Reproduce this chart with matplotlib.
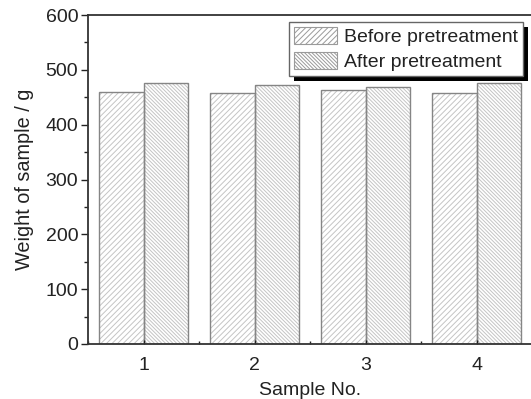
import numpy as np
import matplotlib
matplotlib.use("Agg")
import matplotlib.pyplot as plt
from matplotlib.ticker import MultipleLocator

# data
samples = [1, 2, 3, 4]
before = [460, 458, 463, 458]
after = [476, 473, 469, 476]

plt.rcParams["font.family"] = ["Liberation Sans", "DejaVu Sans"]
plt.rcParams["hatch.linewidth"] = 0.7

fig = plt.figure(figsize=(5.31, 3.99), dpi=100)
ax = fig.add_axes([88 / 531, 1 - 344 / 399, 444 / 531, 329 / 399])

x = np.array(samples)
w = 0.4
hatch_b = "//////"
hatch_a = "\\" * 9

# hatched fill in light gray, outline drawn on top in darker gray
ax.bar(x - w / 2, before, w, facecolor="white", edgecolor="#c4c4c4",
       hatch=hatch_b, linewidth=0)
ax.bar(x + w / 2, after, w, facecolor="white", edgecolor="#c4c4c4",
       hatch=hatch_a, linewidth=0)
ax.bar(x - w / 2, before, w, facecolor="none", edgecolor="#858585", linewidth=1.0)
ax.bar(x + w / 2, after, w, facecolor="none", edgecolor="#858585", linewidth=1.0)

# legend handles
hb = plt.Rectangle((0, 0), 1, 1, facecolor="white", edgecolor="#9a9a9a",
                   hatch=hatch_b, linewidth=0.8)
ha = plt.Rectangle((0, 0), 1, 1, facecolor="white", edgecolor="#9a9a9a",
                   hatch=hatch_a, linewidth=0.8)

ax.set_xlim(0.5, 4.5)
ax.set_ylim(0, 600)
ax.set_xticks(samples)
ax.xaxis.set_minor_locator(MultipleLocator(0.5))
ax.yaxis.set_major_locator(MultipleLocator(100))
ax.yaxis.set_minor_locator(MultipleLocator(50))
ax.tick_params(axis="y", which="both", direction="out", labelsize=14,
               width=1.0, pad=2, colors="#222222")
ax.tick_params(axis="y", which="major", length=5)
ax.tick_params(axis="y", which="minor", length=3)
ax.tick_params(axis="x", which="both", direction="in", labelsize=14,
               width=1.0, pad=9, colors="#222222")
ax.tick_params(axis="x", which="major", length=3)
ax.tick_params(axis="x", which="minor", length=2)
ax.tick_params(right=False, top=False)
for s in ax.spines.values():
    s.set_linewidth(1.3)
    s.set_color("#333333")

ax.set_xlabel("Sample No.", fontsize=14, labelpad=6, color="#222222")
ax.set_ylabel("Weight of sample / g", fontsize=14.3, labelpad=8, color="#222222")

leg = ax.legend([hb, ha], ["Before pretreatment", "After pretreatment"],
                loc="upper right", bbox_to_anchor=(0.98, 0.979), fontsize=14,
                frameon=True, fancybox=False, framealpha=1,
                handlelength=2.2, handleheight=0.95, handletextpad=0.33,
                labelspacing=0.28, borderpad=0.28, borderaxespad=0)
leg.get_frame().set_edgecolor("#666666")
leg.get_frame().set_linewidth(1.0)
for t in leg.get_texts():
    t.set_color("#222222")

# black drop shadow behind the legend box
fig.canvas.draw()
bb = leg.get_window_extent()
shadow = plt.Rectangle((bb.x0 + 5, bb.y0 - 5), bb.width, bb.height,
                       transform=None, facecolor="black", edgecolor="none",
                       zorder=leg.get_zorder() - 0.1)
ax.add_artist(shadow)

plt.savefig("out.png", dpi=100)
